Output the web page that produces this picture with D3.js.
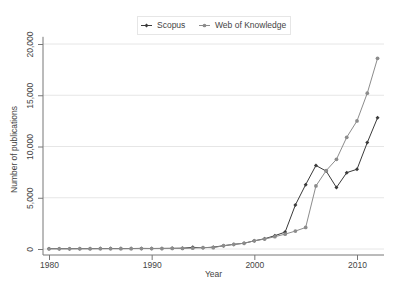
<!DOCTYPE html>
<meta charset="utf-8">
<style>
body { margin: 0; background: #fff; }
text { font-family: "Liberation Sans", Arial, sans-serif; fill: #444; }
.tick text { font-size: 8.5px; }
.axis path, .axis line { stroke: #777; }
.grid line { stroke: #e6e6e6; }
</style>
<svg width="399" height="285"></svg>
<script src="https://d3js.org/d3.v7.min.js"></script>
<script>

var years = d3.range(1980, 2013);

var scopus = [30, 30, 30, 35, 35, 40, 45, 40, 45, 60, 50, 60, 70, 80, 160,
              120, 180, 320, 450, 560, 800, 1000, 1300, 1650, 4300, 6280,
              8150, 7600, 6000, 7450, 7780, 10380, 12800];

var wok = [20, 20, 20, 25, 25, 30, 30, 30, 35, 40, 40, 45, 50, 60, 80,
           140, 130, 320, 460, 560, 800, 970, 1200, 1450, 1750, 2100,
           6150, 7650, 8750, 10900, 12500, 15200, 18600];

var yTicks = [0, 5000, 10000, 15000, 20000];
var xTicks = [1980, 1990, 2000, 2010];

var series = [
  {name: "Scopus", values: scopus, color: "#3a3a3a", marker: "diamond"},
  {name: "Web of Knowledge", values: wok, color: "#8c8c8c", marker: "circle"}
];

var svg = d3.select("svg");

var x = d3.scaleLinear().domain([1980, 2010]).range([49, 357]);
var y = d3.scaleLinear().domain([0, 20000]).range([249, 44]);

var left = 43, right = 384, bottom = 255;

// grid
svg.append("g")
    .attr("class", "grid")
  .selectAll("line")
  .data(yTicks)
  .join("line")
    .attr("x1", left)
    .attr("x2", right)
    .attr("y1", function(d) { return y(d); })
    .attr("y2", function(d) { return y(d); });

// y axis
var yAxis = svg.append("g")
    .attr("class", "axis")
    .attr("transform", "translate(" + left + ",0)")
    .call(d3.axisLeft(y).tickValues(yTicks).tickFormat(d3.format(",d")).tickSize(5).tickSizeOuter(0));
yAxis.select(".domain").attr("d", "M0," + y(20700) + "V" + bottom);
yAxis.selectAll(".tick text")
    .attr("transform", "rotate(-90)")
    .attr("x", 0)
    .attr("y", -10)
    .attr("dy", 0)
    .style("text-anchor", "middle");

// x axis
var xAxis = svg.append("g")
    .attr("class", "axis")
    .attr("transform", "translate(0," + bottom + ")")
    .call(d3.axisBottom(x).tickValues(xTicks).tickFormat(d3.format("d")).tickSize(5).tickSizeOuter(0));
xAxis.select(".domain").attr("d", "M" + left + ",0H" + right);
xAxis.selectAll(".tick text").attr("y", 7);

// axis titles
svg.append("text")
    .attr("x", (left + right) / 2)
    .attr("y", 277)
    .attr("text-anchor", "middle")
    .style("font-size", "8.5px")
    .text("Year");

svg.append("text")
    .attr("transform", "translate(17," + ((y(20000) + bottom) / 2) + ") rotate(-90)")
    .attr("text-anchor", "middle")
    .style("font-size", "8.5px")
    .text("Number of publications");

// lines
var line = d3.line()
    .x(function(d, i) { return x(years[i]); })
    .y(function(d) { return y(d); });

var diamond = d3.symbol().type(d3.symbolSquare).size(8);
var circle = d3.symbol().type(d3.symbolCircle).size(11);

function markerTransform(s, px, py) {
  return "translate(" + px + "," + py + ")" + (s.marker === "diamond" ? " rotate(45)" : "");
}

// Scopus first, Web of Knowledge drawn on top
series.forEach(function(s) {
  svg.append("path")
      .datum(s.values)
      .attr("fill", "none")
      .attr("stroke", s.color)
      .attr("stroke-width", 1)
      .attr("d", line);
  svg.append("g")
    .selectAll("path")
    .data(s.values)
    .join("path")
      .attr("transform", function(d, i) { return markerTransform(s, x(years[i]), y(d)); })
      .attr("d", s.marker === "diamond" ? diamond : circle)
      .attr("fill", s.color);
});

// legend
var legend = svg.append("g");
legend.append("rect")
    .attr("x", 137.5)
    .attr("y", 16.5)
    .attr("width", 153)
    .attr("height", 18)
    .attr("fill", "#fff")
    .attr("stroke", "#e6e6e6");

var legendX = [141, 199];
series.forEach(function(s, i) {
  var g = legend.append("g").attr("transform", "translate(" + legendX[i] + ",25.5)");
  g.append("line").attr("x1", 0).attr("x2", 11).attr("stroke", s.color);
  g.append("path").attr("transform", markerTransform(s, 5.5, 0))
      .attr("d", s.marker === "diamond" ? diamond : circle)
      .attr("fill", s.color);
  g.append("text")
      .attr("x", 16)
      .attr("dy", "0.35em")
      .style("font-size", "8.5px")
      .text(s.name);
});

</script>
